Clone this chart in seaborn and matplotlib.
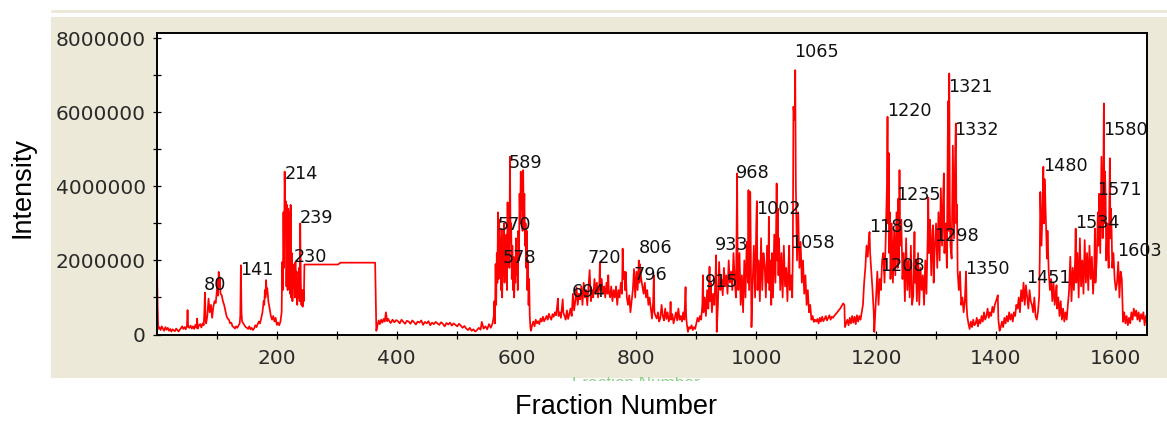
import numpy as np
import pandas as pd
import matplotlib
matplotlib.use("Agg")
import matplotlib.pyplot as plt
from matplotlib.patches import Rectangle
from matplotlib.ticker import FixedLocator, FuncFormatter
import seaborn as sns

# ---------------- data (intensity in units of 100,000) ----------------
UNIT = 1e5

seg01_f = [0, 1, 2, 4, 6, 8, 10, 12, 14, 16, 18, 20, 22, 24, 26, 28, 30, 32, 34, 36,
           38, 40, 42, 44, 46, 48, 50, 51, 52, 54, 56, 58, 60, 62, 64, 66, 67, 68, 70, 72,
           74, 76, 78, 79, 80, 81, 82]
seg01_v = [19, 8, 1.5, 2, 1.2, 2.2, 1.5, 1, 2, 1.3, 1.8, 1, 1.5, 0.8, 1.4, 1.1, 0.9, 1.6, 1.2, 0.8,
           1.3, 1.7, 2.2, 1.5, 2, 1.4, 2.5, 6.6, 2, 1.8, 2.4, 1.6, 2.2, 1.5, 2.6, 1.8, 4.3, 1.6, 2.4, 2.8,
           1.9, 3, 2.5, 6, 11.3, 4, 3]

seg02_f = [84, 86, 88, 90, 92, 94, 96, 98, 100, 101, 102, 103, 104, 105, 106, 108, 110, 112, 114, 116,
           118, 120, 122, 124, 126, 128, 130, 132, 134, 136, 138, 139, 140, 141, 142, 144]
seg02_v = [5, 9.7, 6, 8, 4.5, 7.5, 9, 8.5, 12, 15, 10.5, 16.9, 13, 15.5, 11, 10.6, 9, 8, 6.5, 5,
           4.3, 4, 3, 3.2, 2.2, 2, 1.6, 2.2, 1.8, 2.4, 3, 5, 18.7, 6, 3.5, 3]

seg03_f = [146, 148, 150, 152, 154, 156, 158, 160, 162, 164, 166, 168, 170, 172, 174, 176, 178, 179, 180, 181,
           182, 183, 184, 186, 188, 190, 192, 194, 196, 198, 200, 202, 204, 206, 208]
seg03_v = [2.5, 2, 1.8, 1.5, 2.2, 1.4, 1.8, 1.2, 1.6, 2.5, 2, 2.8, 3.5, 3, 4.5, 6, 9, 8, 12, 10,
           14.7, 11, 12.5, 8.8, 7, 5, 4, 5, 3.5, 4.5, 2.6, 3.2, 2.5, 3.5, 6]

seg04_f = list(range(209, 246))
seg04_v = [19.6, 12, 33, 18, 44, 30, 36, 13, 35, 12, 34, 15, 33, 11, 35, 10, 22, 9, 16, 14,
           19, 10, 19.6, 12, 17, 8, 15, 10, 18, 9, 30, 14, 8, 12, 7.5, 12, 9]

seg05_f = [246, 302, 306, 364, 365, 366]
seg05_v = [18.9, 18.9, 19.4, 19.4, 10.5, 1]

seg06_f = [368, 370, 372, 374, 376, 378, 380, 382, 384, 386, 388, 390, 393, 396, 399, 402, 405, 408, 411, 414,
           417, 420, 423, 426, 429, 432, 435, 438, 441, 444, 447, 450, 453, 456, 459, 462, 465, 468, 471, 474,
           477, 480, 483, 486, 489, 492, 495, 498, 501, 504, 507, 510, 513, 516, 519, 522, 525, 528, 531, 534,
           537, 540, 542, 545, 548, 551, 554, 557, 560]
seg06_v = [2.5, 3.8, 2.8, 4, 3.2, 4.2, 3.5, 6, 3.6, 4.2, 3.5, 3.1, 4, 3.3, 3.9, 3.6, 3, 4, 3.4, 2.9,
           3.7, 3.5, 2.9, 3.8, 3.3, 2.7, 3.5, 3.2, 3.8, 2.6, 3.4, 3, 3.6, 2.5, 3.2, 2.8, 3.4, 3, 2.6, 3.3,
           2.9, 2.2, 3.1, 2.7, 3.2, 2.4, 3, 2.6, 2.2, 2.9, 2.4, 1.8, 2.3, 1.6, 1.2, 1.8, 1, 1.4, 0.8, 1.2,
           1.8, 1.3, 3.4, 1.6, 2.2, 1.4, 2.8, 1.8, 3]

seg07_f = list(range(562, 625))
seg07_v = [5, 9, 3, 19, 8, 22, 14, 33, 15, 31, 18, 26, 12, 28.5, 10, 22, 16, 30, 14, 24,
           18, 27, 12, 35.7, 20, 30, 18, 48, 25, 30, 15, 24, 12, 21, 10, 18, 14, 26, 16, 22,
           12, 28, 20, 38, 30, 44, 34, 40, 28, 44.4, 30, 38, 24, 30, 18, 28, 12, 20, 8, 15,
           5, 2, 1]

seg08_f = [626, 628, 630, 632, 634, 636, 638, 640, 642, 644, 646, 648, 650, 652, 654, 656, 658, 660, 662, 664,
           666, 668, 669, 670, 672, 674, 676, 677, 678, 680, 682, 684, 686, 688, 690, 692, 694, 696, 698, 700]
seg08_v = [2.5, 3.5, 2.2, 4, 3, 3.6, 2.8, 4.3, 3.5, 4.8, 3.6, 4.2, 5, 4, 5.6, 4.6, 4, 5.5, 4.8, 6,
           5.2, 8, 9.7, 5, 6, 4.5, 8, 9.5, 6, 5, 4, 6.5, 4.2, 5.5, 7, 5, 11, 6.5, 9, 12.8]

seg09_f = [702, 704, 706, 708, 710, 712, 714, 716, 718, 720, 722, 724, 726, 728, 730, 732, 734, 736, 738, 739,
           740, 742, 744, 746, 748, 750, 752, 753, 754, 756, 758, 760, 762, 764, 766, 768, 770, 772, 774, 776,
           777, 778, 780, 781, 782, 784, 786, 788, 790, 792, 794, 796, 798, 800, 802, 804, 805, 806, 808, 810,
           812, 814, 816, 818, 820, 822, 824, 826, 828, 829, 830]
seg09_v = [8, 11, 9.5, 13, 8, 14, 10, 12, 7.9, 13, 17.4, 9, 12, 10, 15, 11, 14, 10, 13, 19.5,
           12, 15, 11, 13, 10, 14, 11, 16, 12, 10, 13, 9, 12, 10, 13, 8, 12, 10, 14, 11,
           23.2, 15, 17, 12, 16.9, 10, 8, 10.6, 6, 9, 12, 17.7, 10, 17, 12, 20, 14, 19, 15, 13,
           11, 14, 10, 12, 8, 10, 7, 4.3, 9, 16, 6]

seg10_f = [832, 834, 836, 838, 840, 842, 844, 846, 848, 850, 852, 854, 856, 857, 858, 860, 862, 864, 866, 868,
           870, 872, 874, 876, 878, 880, 882, 883, 884, 886, 888, 890, 892, 894, 896, 898, 900]
seg10_v = [5, 4.3, 6, 3.5, 4.5, 8, 5, 3.8, 7, 4.2, 6, 3.5, 5, 8.8, 4, 5.5, 3, 4.5, 6, 3.8,
           7, 4, 5, 3.5, 6, 4, 12.8, 5, 3, 0.7, 2, 1.6, 2.5, 1.2, 2, 1.5, 3]

seg11_f = [902, 904, 906, 908, 910, 911, 912, 914, 916, 918, 920, 922, 923, 924, 926, 928, 930, 932, 933, 934,
           936, 938, 940, 942, 944, 946, 948, 950, 952, 954, 956, 958, 960, 962, 964, 966, 967, 968, 969]
seg11_v = [4.5, 3.5, 5, 4, 8, 16, 6, 10, 5, 12, 7, 18.3, 9, 14, 6, 11, 8, 16, 21.4, 0.7,
           8, 19.6, 12, 15, 10.6, 18, 13, 16, 11, 20, 14, 17, 12, 22, 15, 10, 25, 43.5, 18]

seg12_f = [970, 972, 974, 976, 978, 980, 982, 984, 986, 987, 988, 990, 991, 992, 994, 996, 998, 1000, 1001, 1002,
           1004, 1006, 1008, 1010, 1012, 1014, 1016, 1018, 1020, 1021, 1022, 1024, 1025, 1026, 1028, 1030, 1032, 1034, 1035, 1036,
           1037, 1038, 1040, 1042, 1044, 1046, 1048, 1050, 1052, 1054, 1055, 1056, 1058, 1060, 1061, 1062, 1064, 1065, 1066, 1067,
           1068, 1070, 1072, 1074, 1076, 1078, 1080, 1082, 1084, 1086, 1088, 1090, 1092, 1094, 1096, 1098, 1100]
seg12_v = [12, 22, 8, 16, 6, 20, 10, 25, 14, 39, 12, 38.5, 20, 2, 14, 24, 10, 30, 36, 12,
           20, 9, 26, 12, 22, 18.7, 10, 24, 14, 31.8, 12, 20, 8, 22, 10, 27, 14, 40.8, 20, 34,
           16, 26, 12, 22, 10, 24, 13, 18, 9, 20, 24, 12, 16, 10, 22, 61.5, 58, 71.4, 40, 30,
           20, 33, 18, 25, 14, 20, 11, 16, 8, 12, 6, 8, 4, 5, 3.4, 4, 3.5]

seg13_f = [1102, 1104, 1106, 1108, 1110, 1112, 1114, 1116, 1118, 1120, 1122, 1124, 1126, 1128, 1130, 1135, 1140, 1145, 1147, 1148,
           1150, 1152, 1154, 1156, 1158, 1160, 1162, 1164, 1166, 1168, 1170, 1172, 1174, 1176, 1178, 1180, 1182, 1184, 1186, 1188,
           1189, 1190, 1192, 1194, 1196, 1197, 1198]
seg13_v = [4.2, 3, 4.5, 3.5, 4.8, 3.6, 4.2, 5, 3.8, 4.5, 5.2, 4, 4.8, 4.5, 5, 6, 7, 8.4, 8, 2,
           3, 4, 2.5, 4.5, 3, 5, 3.2, 4.8, 2.8, 5.2, 3.5, 5, 4, 6, 8, 14, 18, 24, 21, 26,
           27.7, 22, 17, 12, 6, 0.7, 4]

seg14_f = [1200, 1202, 1204, 1206, 1208, 1210, 1212, 1214, 1216, 1218, 1219, 1220, 1221, 1222, 1223, 1224, 1226, 1228, 1230, 1232,
           1234, 1236, 1237, 1238, 1239, 1240, 1242, 1244, 1246, 1248, 1250, 1252, 1254, 1256, 1258, 1260, 1262, 1264, 1265, 1266,
           1268, 1270, 1272, 1274, 1276, 1278, 1280, 1282, 1284, 1286, 1287, 1288, 1290, 1292, 1294, 1295, 1296, 1298, 1300]
seg14_v = [10, 17, 8, 15, 12, 20, 22, 14, 26, 40, 58.8, 30, 49, 22, 33, 15, 30, 14, 28, 16,
           33, 18, 36.7, 20, 44.4, 24, 31, 15, 22, 9, 26, 12, 20, 10, 24, 8, 10.6, 27.7, 14, 20,
           9, 22, 8, 18, 12, 16, 8, 20, 11, 26, 37, 22, 31, 16, 28, 29.5, 14, 24, 30]

seg15_f = [1302, 1304, 1306, 1308, 1310, 1312, 1313, 1314, 1316, 1318, 1320, 1321, 1322, 1323, 1324, 1326, 1328, 1330, 1332, 1333,
           1334, 1335, 1336, 1338, 1340, 1342, 1344, 1346, 1348, 1350, 1351, 1352]
seg15_v = [18, 33, 20, 39.5, 24, 38, 43.5, 22, 30, 18, 63, 28, 70.5, 35, 24, 20.5, 51, 26, 50, 57,
           30, 35, 17, 12, 17, 8, 10, 6, 9, 17, 8, 5]

seg16_f = [1354, 1356, 1358, 1360, 1362, 1364, 1366, 1368, 1370, 1372, 1374, 1376, 1378, 1380, 1382, 1384, 1386, 1388, 1390, 1392,
           1394, 1396, 1398, 1400, 1402, 1403, 1404, 1406, 1408, 1410, 1412, 1414, 1416, 1418, 1420, 1422, 1424, 1426, 1428, 1430,
           1432, 1434, 1436, 1438, 1440, 1442, 1444, 1446, 1448, 1450, 1452, 1454, 1456, 1458, 1460, 1462, 1464, 1466, 1468, 1470]
seg16_v = [3, 1.5, 3.5, 2, 4, 2.5, 3, 4.5, 2.2, 4, 3, 5, 3.5, 6, 4, 5, 7, 4.5, 6, 5,
           7.5, 6, 8, 9, 10, 10.6, 4, 1, 2, 3.5, 2, 4.5, 3, 5, 3.5, 6, 4, 5.5, 3.5, 6,
           5, 8, 7, 10, 6, 12, 9, 14, 8, 13.3, 10, 7, 12, 9, 8, 6, 10, 5, 4, 6]

seg17_f = [1472, 1473, 1474, 1476, 1478, 1479, 1480, 1481, 1482, 1484, 1485, 1486, 1488, 1490, 1492, 1494, 1496, 1498, 1500, 1501,
           1502, 1504, 1506, 1508, 1510, 1512, 1514, 1516, 1518, 1520]
seg17_v = [10, 20, 38.5, 24, 36, 45.3, 30, 42, 38.5, 26, 20.5, 28, 17, 12, 15, 9, 14, 8, 11, 13.3,
           7, 10, 5, 9, 4, 7, 3.5, 6, 4, 8]

seg18_f = [1522, 1524, 1526, 1528, 1530, 1532, 1533, 1534, 1536, 1538, 1540, 1542, 1544, 1546, 1548, 1550, 1552, 1554, 1556, 1558,
           1560, 1562, 1564, 1565, 1566, 1568, 1570, 1571, 1572, 1574, 1576, 1578, 1579, 1580, 1581, 1582, 1583, 1584, 1586, 1588,
           1590, 1591, 1592, 1593, 1594, 1596, 1598, 1600, 1602, 1604, 1606, 1608, 1610, 1612]
seg18_v = [12, 21, 9, 18, 12, 20, 28.6, 14, 22, 10, 26, 13, 20, 11, 25.5, 14, 22, 12, 24, 15,
           21, 11, 18, 28.6, 14, 20, 33, 24, 38, 22, 48, 26, 40, 62.4, 30, 44, 36.7, 20, 30, 18,
           47.6, 26, 34, 27.7, 18, 22, 15, 12, 14, 19.6, 10, 17, 15, 3.4]

seg19_f = [1614, 1616, 1618, 1620, 1622, 1624, 1626, 1628, 1630, 1632, 1634, 1636, 1638, 1640, 1642, 1644, 1646, 1648, 1650, 1652]
seg19_v = [6, 3, 5, 2.5, 4.5, 3, 6, 4, 7, 5, 6.5, 4, 6, 3.5, 5.5, 4.2, 6, 2.5, 5, 4]

# peak annotations: fraction number and label height (units of 100,000)
peak_fractions = [80, 141, 214, 239, 230, 589, 570, 578, 720, 694, 806, 796, 915, 933, 968, 1002,
                  1058, 1065, 1220, 1321, 1332, 1235, 1189, 1298, 1208, 1350, 1480, 1580, 1571, 1534,
                  1603, 1451]
peak_label_y = [13.4, 17.4, 43.4, 31.5, 20.9, 46.4, 29.6, 20.7, 20.7, 11.5, 23.4, 16.1, 14.2, 24.2, 43.6, 33.9,
                24.7, 76.4, 60.4, 66.9, 55.3, 37.7, 29.1, 26.6, 18.5, 17.7, 45.5, 55.3, 39.1, 30.1,
                22.6, 15.3]

y_ticks = [0, 2000000, 4000000, 6000000, 8000000]
y_minor = [1000000, 3000000, 5000000, 7000000]
x_ticks = [200, 400, 600, 800, 1000, 1200, 1400, 1600]
x_minor = [100, 300, 500, 700, 900, 1100, 1300, 1500]

segments = [(seg01_f, seg01_v), (seg02_f, seg02_v), (seg03_f, seg03_v), (seg04_f, seg04_v),
            (seg05_f, seg05_v), (seg06_f, seg06_v), (seg07_f, seg07_v), (seg08_f, seg08_v),
            (seg09_f, seg09_v), (seg10_f, seg10_v), (seg11_f, seg11_v), (seg12_f, seg12_v),
            (seg13_f, seg13_v), (seg14_f, seg14_v), (seg15_f, seg15_v), (seg16_f, seg16_v),
            (seg17_f, seg17_v), (seg18_f, seg18_v), (seg19_f, seg19_v)]
fraction, intensity = [], []
for i, (fx, vy) in enumerate(segments):
    if len(fx) != len(vy):
        raise ValueError(f"segment {i+1}: {len(fx)} vs {len(vy)}")
    fraction += list(fx)
    intensity += [v * UNIT for v in vy]
df = pd.DataFrame({"Fraction": fraction, "Intensity": intensity})

# ---------------- figure ----------------
sns.set_style("white")
plt.rcParams['font.family'] = ['DejaVu Sans']

W, H = 1167, 421
fig = plt.figure(figsize=(W / 100, H / 100), dpi=100)
fig.patch.set_facecolor("white")

beige = "#ECE9D8"
fig.add_artist(Rectangle((51 / W, 1 - 378 / H), (W - 51) / W, (378 - 17) / H,
                         transform=fig.transFigure, facecolor=beige, edgecolor="none", zorder=-5))
fig.add_artist(Rectangle((51 / W, 1 - 13 / H), (W - 51) / W, 3 / H,
                         transform=fig.transFigure, facecolor=beige, edgecolor="none", zorder=-5))

ax = fig.add_axes([157 / W, 1 - 334.5 / H, 990 / W, 301 / H])
ax.set_facecolor("white")
sns.lineplot(data=df, x="Fraction", y="Intensity", color="#ff0000", linewidth=1.25,
             estimator=None, sort=False, ax=ax)
ax.set_xlim(0, 1652)
ax.set_ylim(0, 8.13e6)
ax.set_xlabel("")
ax.set_ylabel("")

ax.xaxis.set_major_locator(FixedLocator(x_ticks))
ax.xaxis.set_minor_locator(FixedLocator(x_minor))
ax.yaxis.set_major_locator(FixedLocator(y_ticks))
ax.yaxis.set_minor_locator(FixedLocator(y_minor))
ax.yaxis.set_major_formatter(FuncFormatter(lambda v, p: f"{int(round(v))}"))
ax.xaxis.set_major_formatter(FuncFormatter(lambda v, p: f"{int(round(v))}"))
ax.tick_params(axis="both", which="both", direction="inout", length=6, width=0.9,
               color="black", bottom=True, left=True, top=False, right=False)
ax.tick_params(axis="both", which="major", labelsize=14.5, labelcolor="#2a2a2a")
ax.tick_params(axis="x", which="major", pad=7.5)
ax.tick_params(axis="y", which="major", pad=5)
for s in ax.spines.values():
    s.set_color("black")
    s.set_linewidth(1.4)
    s.set_visible(True)

for f, ly in zip(peak_fractions, peak_label_y):
    ax.text(f - 1.5, ly * UNIT, str(f), ha="left", va="center", fontsize=12.7,
            color="#111111", clip_on=False)

fig.text(23 / W, 1 - 188 / H, "Intensity", rotation=90, ha="center", va="center",
         fontsize=19.5, family=["Liberation Sans", "DejaVu Sans"], color="black")
fig.text(616 / W, 1 - 407.5 / H, "Fraction Number", ha="center", va="center",
         fontsize=19.5, family=["Liberation Sans", "DejaVu Sans"], color="black")

clip_rect = Rectangle((0, 1 - 381 / H), 1, 4 / H, transform=fig.transFigure, visible=False)
gt = fig.text(636 / W, 1 - 376 / H, "Fraction Number", ha="center", va="top",
              fontsize=12.3, family=["Liberation Sans", "DejaVu Sans"], color="#8fcf88")
gt.set_clip_path(clip_rect)

fig.savefig("out.png", dpi=100)
